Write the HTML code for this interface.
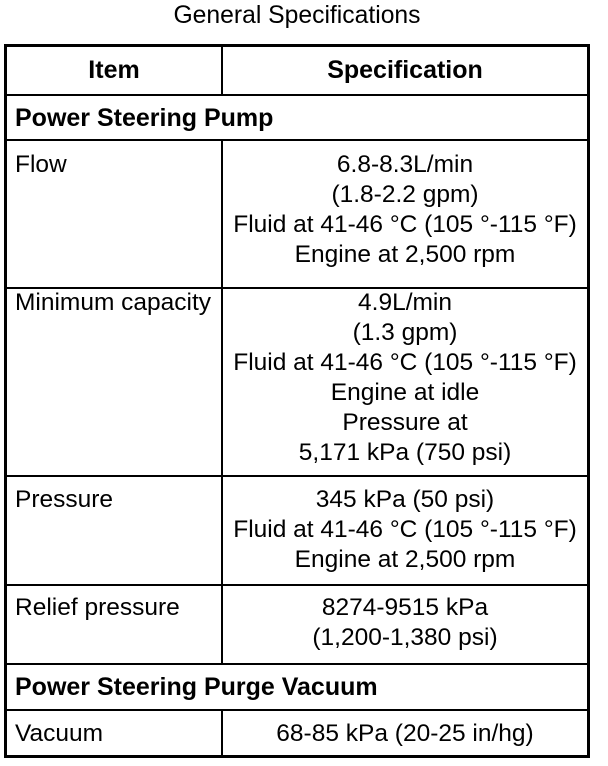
<!DOCTYPE html>
<html><head><style>
body{margin:0;width:608px;height:766px;background:#fff;position:relative;font-family:"Liberation Sans",Arial,sans-serif;color:#000;overflow:hidden}
.t{position:absolute;font-size:24.5px;line-height:30px;white-space:nowrap}
.c{text-align:center}
.b{font-weight:bold;font-size:25px}
.h{position:absolute;left:4px;width:586px;height:2px;background:#000}
</style></head><body>
<div class="t c" style="left:0;width:594px;top:1px;font-size:24.7px">General Specifications</div>
<div style="position:absolute;left:4px;top:44px;width:580px;height:708px;border:3px solid #000"></div>
<div style="position:absolute;left:221px;top:44px;width:2px;height:51px;background:#000"></div>
<div style="position:absolute;left:221px;top:140px;width:2px;height:525px;background:#000"></div>
<div style="position:absolute;left:221px;top:710px;width:2px;height:46px;background:#000"></div>
<div class="h" style="top:94px"></div>
<div class="h" style="top:139px"></div>
<div class="h" style="top:287px"></div>
<div class="h" style="top:475px"></div>
<div class="h" style="top:584px"></div>
<div class="h" style="top:663px"></div>
<div class="h" style="top:709px"></div>

<div class="t c b" style="left:7px;width:214px;top:55px">Item</div>
<div class="t c b" style="left:223px;width:364px;top:55px">Specification</div>
<div class="t b" style="left:15px;top:103px">Power Steering Pump</div>

<div class="t" style="left:15px;top:150px">Flow</div>
<div class="t c" style="left:223px;width:364px;top:150px">6.8-8.3L/min<br>(1.8-2.2 gpm)<br>Fluid at 41-46 °C (105 °-115 °F)<br>Engine at 2,500 rpm</div>

<div class="t" style="left:15px;top:288px">Minimum capacity</div>
<div class="t c" style="left:223px;width:364px;top:288px">4.9L/min<br>(1.3 gpm)<br>Fluid at 41-46 °C (105 °-115 °F)<br>Engine at idle<br>Pressure at<br>5,171 kPa (750 psi)</div>

<div class="t" style="left:15px;top:485px">Pressure</div>
<div class="t c" style="left:223px;width:364px;top:485px">345 kPa (50 psi)<br>Fluid at 41-46 °C (105 °-115 °F)<br>Engine at 2,500 rpm</div>

<div class="t" style="left:15px;top:593px">Relief pressure</div>
<div class="t c" style="left:223px;width:364px;top:593px">8274-9515 kPa<br>(1,200-1,380 psi)</div>

<div class="t b" style="left:15px;top:672px">Power Steering Purge Vacuum</div>

<div class="t" style="left:15px;top:719px">Vacuum</div>
<div class="t c" style="left:223px;width:364px;top:719px">68-85 kPa (20-25 in/hg)</div>
</body></html>
